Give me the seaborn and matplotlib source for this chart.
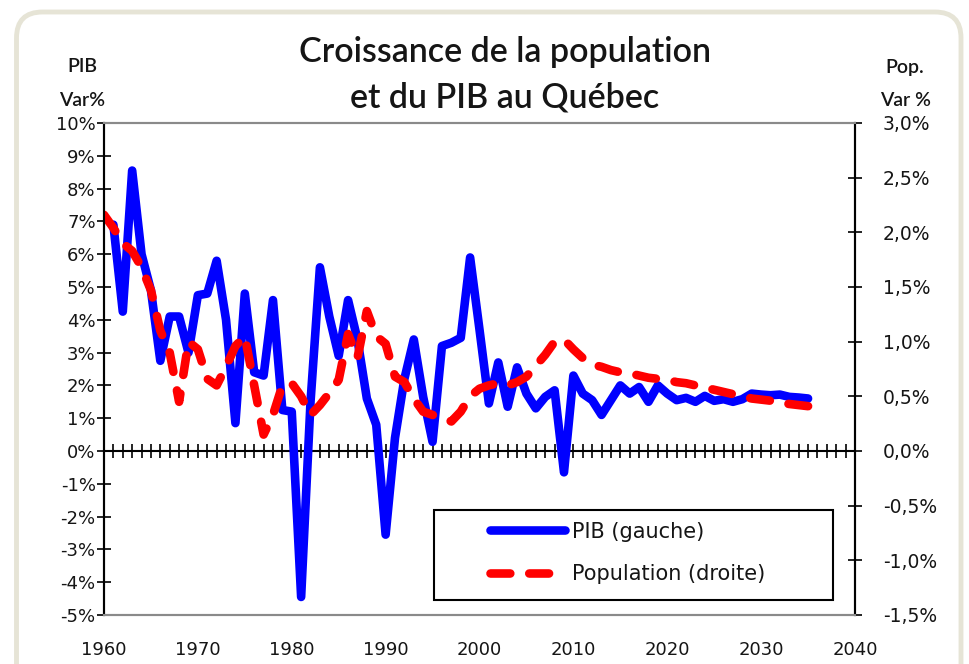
import numpy as np
import pandas as pd
import matplotlib
matplotlib.use("Agg")
import matplotlib.pyplot as plt
import seaborn as sns
from matplotlib.ticker import FuncFormatter
from matplotlib.patches import FancyBboxPatch, Rectangle

# ---------------- data ----------------
pib_years = list(range(1961, 2036))
pib = [6.9, 4.25, 8.55, 6.0, 4.9, 2.75, 4.1, 4.1, 3.0, 4.75,
       4.8, 5.8, 4.0, 0.85, 4.8, 2.4, 2.3, 4.6, 1.25, 1.2,
       -4.45, 1.5, 5.6, 4.1, 2.9, 4.6, 3.4, 1.6, 0.8, -2.55,
       0.4, 2.2, 3.4, 1.65, 0.28, 3.2, 3.3, 3.45, 5.9, 3.7,
       1.45, 2.7, 1.35, 2.55, 1.75, 1.3, 1.65, 1.85, -0.65, 2.3,
       1.75, 1.55, 1.1, 1.55, 2.0, 1.75, 1.95, 1.5, 2.0, 1.75,
       1.55, 1.62, 1.5, 1.68, 1.53, 1.58, 1.5, 1.58, 1.75, 1.72,
       1.7, 1.72, 1.65, 1.63, 1.6]

pop_years = list(range(1960, 2036))
pop = [2.16, 2.04, 1.9, 1.83, 1.68, 1.47, 1.1, 0.9, 0.45, 1.0,
       0.93, 0.66, 0.6, 0.77, 0.96, 1.05, 0.6, 0.15, 0.33, 0.6,
       0.62, 0.5, 0.33, 0.42, 0.53, 0.65, 1.07, 0.85, 1.28, 1.05,
       0.98, 0.68, 0.63, 0.48, 0.36, 0.33, 0.31, 0.27, 0.36, 0.5,
       0.57, 0.6, 0.62, 0.6, 0.63, 0.68, 0.78, 0.88, 1.0, 1.02,
       0.93, 0.85, 0.79, 0.77, 0.74, 0.72, 0.71, 0.69, 0.67, 0.66,
       0.65, 0.63, 0.62, 0.6, 0.58, 0.56, 0.54, 0.52, 0.5, 0.48,
       0.47, 0.46, 0.44, 0.43, 0.42, 0.41]

x_ticks = list(range(1960, 2041, 10))
left_ticks = list(range(-5, 11))
right_ticks = [-1.5, -1.0, -0.5, 0.0, 0.5, 1.0, 1.5, 2.0, 2.5, 3.0]

title_lines = ["Croissance de la population", "et du PIB au Québec"]
labels = ["PIB (gauche)", "Population (droite)"]

df_pib = pd.DataFrame({"annee": pib_years, "pib": pib})
df_pop = pd.DataFrame({"annee": pop_years, "pop": pop})

# ---------------- style ----------------
sns.set_theme(style="white")
plt.rcParams["font.family"] = ["DejaVu Sans"]
TXT = "#151515"

W, H = 969, 664
fig = plt.figure(figsize=(W / 100, H / 100), dpi=100)
fig.patch.set_facecolor("white")

# rounded outer frame (inch coordinates)
frame = FancyBboxPatch((0.165, -0.3), 9.445, 6.82,
                       boxstyle="round,pad=0,rounding_size=0.26",
                       transform=fig.dpi_scale_trans, fill=False,
                       edgecolor="#e6e4d6", linewidth=3.5)
fig.patches.append(frame)

L, R, T, B = 104, 855, 123, 615
ax = fig.add_axes([L / W, 1 - B / H, (R - L) / W, (B - T) / H])
ax2 = ax.twinx()

sns.lineplot(data=df_pib, x="annee", y="pib", ax=ax, color="#0000ff",
             linewidth=6.2, legend=False)
sns.lineplot(data=df_pop, x="annee", y="pop", ax=ax2, color="#ff0000",
             linewidth=6.2, legend=False)

l1 = ax.lines[0]
l1.set_solid_capstyle("round")
l1.set_solid_joinstyle("round")
l1.set_label(labels[0])
l2 = ax2.lines[0]
l2.set_dashes([2.3, 2.2])
l2.set_dash_capstyle("round")
l2.set_dash_joinstyle("round")
l2.set_label(labels[1])

ax.set_xlim(1960, 2040)
ax.set_ylim(-5, 10)
ax2.set_ylim(-1.5, 3.0)
ax.set_xlabel("")
ax.set_ylabel("")
ax2.set_ylabel("")

ax.set_yticks(left_ticks)
ax2.set_yticks(right_ticks)
ax.yaxis.set_major_formatter(FuncFormatter(lambda v, p: f"{int(round(v))}%"))
ax2.yaxis.set_major_formatter(
    FuncFormatter(lambda v, p: f"{v:.1f}%".replace(".", ",").replace("-0,0", "0,0")))
ax.set_xticks(x_ticks)

ax.tick_params(axis="y", direction="inout", length=10, width=1.2, color="black",
               labelsize=13, labelcolor=TXT, pad=1)
ax2.tick_params(axis="y", direction="inout", length=10, width=1.2, color="black",
                labelsize=13.5, labelcolor=TXT, pad=15)
for lab in ax2.get_yticklabels():
    lab.set_horizontalalignment("left")
ax.tick_params(axis="x", length=0, labelsize=13, labelcolor=TXT, pad=19)
ax2.tick_params(axis="x", length=0)

for a in (ax, ax2):
    a.grid(False)
    a.set_facecolor("none")
    a.spines["left"].set_color("black")
    a.spines["right"].set_color("black")
    a.spines["left"].set_linewidth(1.5)
    a.spines["right"].set_linewidth(1.5)
    a.spines["top"].set_color("#8a8a8a")
    a.spines["bottom"].set_color("#8a8a8a")
    a.spines["top"].set_linewidth(1.5)
    a.spines["bottom"].set_linewidth(1.5)
ax.set_facecolor("white")

# zero line with yearly cross ticks
zero = ax.secondary_xaxis(5 / 15)
zero.spines["bottom"].set_color("black")
zero.spines["bottom"].set_linewidth(1.5)
zero.set_xticks(range(1961, 2040))
zero.tick_params(axis="x", direction="inout", length=10, width=1.2,
                 color="black", labelbottom=False)

# legend with frame
box = Rectangle((0.439, 0.0305), 0.532, 0.183, transform=ax2.transAxes,
                facecolor="white", edgecolor="black", linewidth=1.5, zorder=10)
ax2.add_patch(box)
leg = ax2.legend(handles=[l1, l2], labels=labels, loc="upper left",
                 bbox_to_anchor=(0.514, 0.190), frameon=False, fontsize=15,
                 handlelength=3.6, handletextpad=0.35, labelspacing=1.1,
                 borderpad=0, borderaxespad=0)
leg.set_zorder(11)
for t in leg.get_texts():
    t.set_color(TXT)

# titles and axis headers
title_font = dict(family=["Lato", "DejaVu Sans"], fontsize=24.5, weight="semibold",
                  color=TXT, ha="center", va="center")
fig.text(505 / W, 1 - 52 / H, title_lines[0], **title_font)
fig.text(505 / W, 1 - 97 / H, title_lines[1], **title_font)
head_font = dict(family=["Lato", "DejaVu Sans"], fontsize=14, weight="semibold",
                 color=TXT, ha="center", va="center")
fig.text(82 / W, 1 - 67 / H, "PIB", **head_font)
fig.text(82 / W, 1 - 100 / H, "Var%", **head_font)
fig.text(905 / W, 1 - 67 / H, "Pop.", **head_font)
fig.text(905 / W, 1 - 100 / H, "Var %", **head_font)

fig.savefig("out.png", dpi=100, facecolor="white")
